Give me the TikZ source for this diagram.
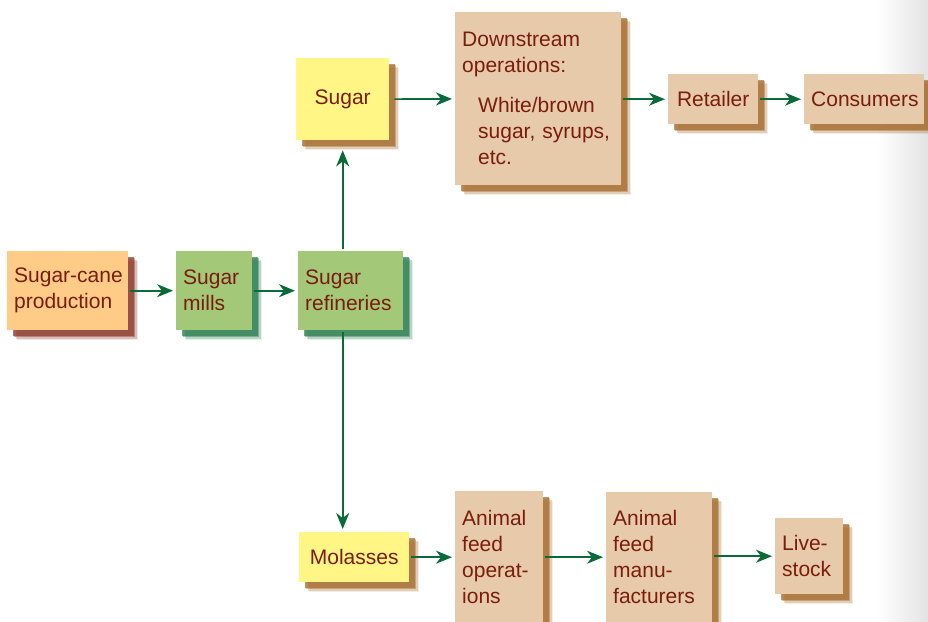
\documentclass[tikz,border=0pt]{standalone}
\usepackage{fontspec}
\setmainfont{Liberation Sans}
\usetikzlibrary{arrows.meta,shadows}

\definecolor{textred}{HTML}{7A1C0E}
\definecolor{flowgreen}{HTML}{0A6A38}
\definecolor{canefill}{HTML}{FFCC88}
\definecolor{millfill}{HTML}{A2C878}
\definecolor{sugarfill}{HTML}{FFF685}
\definecolor{tanfill}{HTML}{E6CAA9}
\definecolor{caneshade}{HTML}{8E3E30}
\definecolor{millshade}{HTML}{2F8052}
\definecolor{tanshade}{HTML}{A86E30}

\tikzset{
  softshadow/.style={
    general shadow={fill=#1, opacity=.12, shadow xshift=10pt, shadow yshift=-10pt},
    general shadow={fill=#1, opacity=.25, shadow xshift=8.5pt, shadow yshift=-8.5pt},
    general shadow={fill=#1, opacity=.45, shadow xshift=7pt, shadow yshift=-7pt},
    general shadow={fill=#1, opacity=.7, shadow xshift=5.5pt, shadow yshift=-5.5pt}},
  stagebox/.style={rectangle, anchor=north west, inner xsep=7pt, inner ysep=0pt,
    text=textred, font=\fontsize{21}{26}\selectfont},
  flow/.style={draw=flowgreen, line width=1.6pt, -{Stealth[length=16pt,width=13pt,inset=5pt]},
    shorten >=3pt, shorten <=2pt}
}

\begin{document}
\begin{tikzpicture}[x=1pt, y=-1pt]
\useasboundingbox (0,0) rectangle (928,621);
\shade[left color=white, right color=black!11] (878,0) rectangle (928,621);

\node[stagebox, fill=canefill, softshadow=caneshade, text width=107pt, minimum height=79pt, align=left] (cane) at (7,251) {\mbox{Sugar-cane}\\production};
\node[stagebox, fill=millfill, softshadow=millshade, text width=62pt, minimum height=79pt, align=left] (mills) at (176,251) {Sugar\\mills};
\node[stagebox, fill=millfill, softshadow=millshade, text width=91pt, minimum height=79pt, align=left] (refin) at (298,251) {Sugar\\refineries};
\node[stagebox, fill=sugarfill, softshadow=tanshade, text width=79pt, minimum height=82pt, align=center] (sugar) at (296,58) {Sugar};
\node[stagebox, fill=tanfill, softshadow=tanshade, text width=152pt, minimum height=173pt, align=left] (down) at (455,12)
  {Downstream\\operations:\\[14pt]\hspace*{16pt}White/brown\\\hspace*{16pt}sugar, syrups,\\\hspace*{16pt}etc.};
\node[stagebox, fill=tanfill, softshadow=tanshade, text width=76pt, minimum height=50pt, align=center] (retail) at (668,74) {Retailer};
\node[stagebox, fill=tanfill, softshadow=tanshade, text width=106pt, minimum height=50pt, align=center] (consum) at (804,74) {Consumers};
\node[stagebox, fill=sugarfill, softshadow=tanshade, text width=96pt, minimum height=50pt, align=center] (molas) at (299,532) {Molasses};
\node[stagebox, fill=tanfill, softshadow=tanshade, text width=74pt, minimum height=131pt, align=left] (feedops) at (455,491) {Animal\\feed\\operat-\\ions};
\node[stagebox, fill=tanfill, softshadow=tanshade, text width=92pt, minimum height=130pt, align=left] (feedmfr) at (606,492) {Animal\\feed\\manu-\\facturers};
\node[stagebox, fill=tanfill, softshadow=tanshade, text width=54pt, minimum height=76pt, align=left] (stock) at (775,518) {Live-\\stock};

\draw[flow] (cane) -- (mills);
\draw[flow] (mills) -- (refin);
\draw[flow, shorten >=10pt] (refin.north -| sugar.south) -- (sugar.south);
\draw[flow] (refin.south -| sugar.south) -- (molas.north -| sugar.south);
\draw[flow, shorten <=5pt] (sugar) -- (down);
\draw[flow] (down.east |- retail.west) -- (retail);
\draw[flow] (retail) -- (consum);
\draw[flow] (molas) -- (feedops.west |- molas.east);
\draw[flow] (feedops.east |- molas.east) -- (feedmfr.west |- molas.east);
\draw[flow] (feedmfr.east |- stock.west) -- (stock);
\end{tikzpicture}
\end{document}
